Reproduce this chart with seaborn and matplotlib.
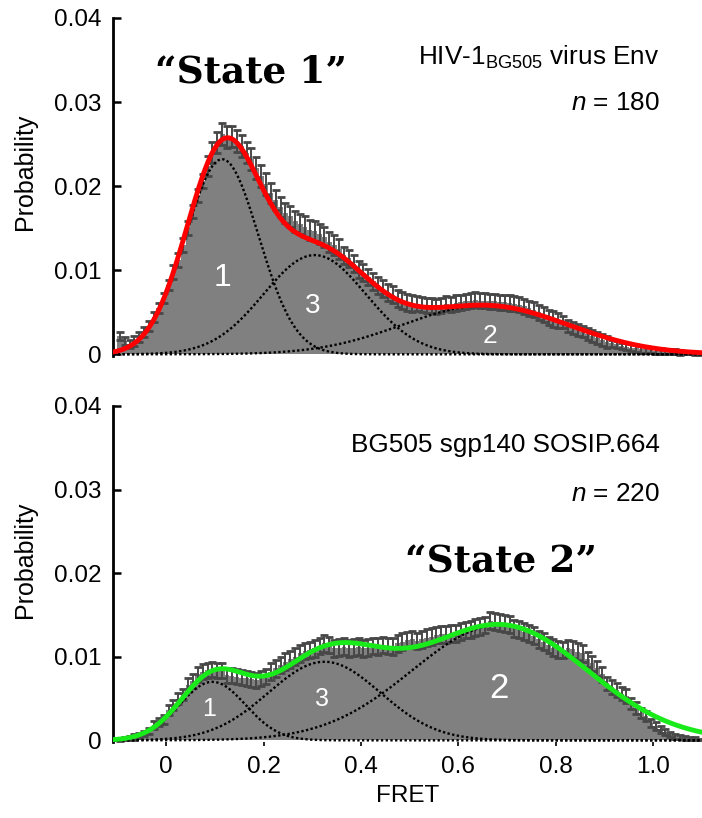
import numpy as np
import pandas as pd
import seaborn as sns
import matplotlib.pyplot as plt

# ---------------- data ----------------
fret_bin_start = -0.10
bin_width = 0.01

top_prob = [
    0.0022, 0.0016, 0.0012, 0.0016, 0.0021, 0.0026, 0.0034, 0.0044, 0.0055, 0.0067,
    0.0082, 0.0098, 0.0112, 0.0130, 0.0150, 0.0170, 0.0189, 0.0206, 0.0224, 0.0240,
    0.0252, 0.0262, 0.0258, 0.0259, 0.0254, 0.0248, 0.0240, 0.0232, 0.0222, 0.0212,
    0.0203, 0.0192, 0.0184, 0.0175, 0.0168, 0.0164, 0.0158, 0.0155, 0.0152, 0.0148,
    0.0147, 0.0143, 0.0140, 0.0134, 0.0130, 0.0125, 0.0118, 0.0114, 0.0108, 0.0101,
    0.0097, 0.0092, 0.0087, 0.0082, 0.0078, 0.0074, 0.0071, 0.0066, 0.0064, 0.0062,
    0.0060, 0.0060, 0.0059, 0.0058, 0.0058, 0.0057, 0.0058, 0.0060, 0.0059, 0.0061,
    0.0062, 0.0063, 0.0064, 0.0065, 0.0064, 0.0064, 0.0063, 0.0063, 0.0062, 0.0062,
    0.0061, 0.0060, 0.0059, 0.0057, 0.0055, 0.0053, 0.0050, 0.0047, 0.0044, 0.0042,
    0.0040, 0.0038, 0.0034, 0.0031, 0.0029, 0.0027, 0.0024, 0.0022, 0.0019, 0.0017,
    0.0015, 0.0013, 0.0012, 0.0010, 0.0009, 0.0008, 0.0007, 0.0006, 0.0006, 0.0005,
    0.0004, 0.0004, 0.0003, 0.0003, 0.0003, 0.0002, 0.0002, 0.0002, 0.0001, 0.0001,
]
top_err = [
    0.0005, 0.0005, 0.0005, 0.0006, 0.0006, 0.0006, 0.0006, 0.0006, 0.0006, 0.0006,
    0.0006, 0.0008, 0.0008, 0.0008, 0.0008, 0.0008, 0.0008, 0.0008, 0.0012, 0.0013,
    0.0013, 0.0013, 0.0013, 0.0013, 0.0013, 0.0013, 0.0013, 0.0013, 0.0013, 0.0013,
    0.0013, 0.0012, 0.0012, 0.0012, 0.0012, 0.0012, 0.0012, 0.0012, 0.0012, 0.0012,
    0.0012, 0.0012, 0.0012, 0.0012, 0.0012, 0.0012, 0.0010, 0.0010, 0.0010, 0.0010,
    0.0010, 0.0010, 0.0010, 0.0010, 0.0010, 0.0010, 0.0010, 0.0010, 0.0010, 0.0010,
    0.0010, 0.0009, 0.0009, 0.0009, 0.0009, 0.0009, 0.0009, 0.0009, 0.0009, 0.0009,
    0.0009, 0.0009, 0.0009, 0.0009, 0.0009, 0.0009, 0.0009, 0.0009, 0.0009, 0.0009,
    0.0009, 0.0009, 0.0009, 0.0009, 0.0009, 0.0009, 0.0009, 0.0009, 0.0009, 0.0009,
    0.0009, 0.0007, 0.0007, 0.0007, 0.0007, 0.0007, 0.0007, 0.0007, 0.0007, 0.0007,
    0.0007, 0.0004, 0.0004, 0.0004, 0.0004, 0.0004, 0.0004, 0.0004, 0.0004, 0.0004,
    0.0004, 0.0004, 0.0003, 0.0003, 0.0003, 0.0003, 0.0002, 0.0002, 0.0002, 0.0002,
]
bot_prob = [
    0.0001, 0.0002, 0.0003, 0.0004, 0.0006, 0.0008, 0.0011, 0.0018, 0.0022, 0.0025,
    0.0036, 0.0042, 0.0050, 0.0055, 0.0066, 0.0071, 0.0079, 0.0082, 0.0084, 0.0085,
    0.0083, 0.0084, 0.0078, 0.0077, 0.0076, 0.0075, 0.0074, 0.0073, 0.0072, 0.0074,
    0.0076, 0.0082, 0.0086, 0.0090, 0.0094, 0.0097, 0.0100, 0.0104, 0.0107, 0.0108,
    0.0110, 0.0113, 0.0116, 0.0114, 0.0110, 0.0111, 0.0112, 0.0110, 0.0111, 0.0112,
    0.0110, 0.0111, 0.0113, 0.0112, 0.0114, 0.0113, 0.0112, 0.0116, 0.0118, 0.0120,
    0.0121, 0.0119, 0.0121, 0.0123, 0.0124, 0.0126, 0.0127, 0.0127, 0.0128, 0.0128,
    0.0130, 0.0132, 0.0133, 0.0135, 0.0136, 0.0138, 0.0143, 0.0142, 0.0141, 0.0140,
    0.0139, 0.0134, 0.0133, 0.0130, 0.0128, 0.0125, 0.0121, 0.0118, 0.0114, 0.0111,
    0.0109, 0.0108, 0.0110, 0.0109, 0.0106, 0.0104, 0.0097, 0.0092, 0.0086, 0.0079,
    0.0068, 0.0064, 0.0060, 0.0056, 0.0053, 0.0044, 0.0039, 0.0033, 0.0029, 0.0021,
    0.0017, 0.0013, 0.0010, 0.0007, 0.0005, 0.0004, 0.0003, 0.0002, 0.0002, 0.0001,
]
bot_err = [
    0.0002, 0.0002, 0.0002, 0.0003, 0.0003, 0.0003, 0.0004, 0.0005, 0.0005, 0.0005,
    0.0006, 0.0006, 0.0007, 0.0007, 0.0008, 0.0008, 0.0009, 0.0009, 0.0009, 0.0009,
    0.0009, 0.0009, 0.0009, 0.0009, 0.0009, 0.0009, 0.0009, 0.0009, 0.0009, 0.0009,
    0.0009, 0.0010, 0.0010, 0.0010, 0.0010, 0.0010, 0.0010, 0.0010, 0.0010, 0.0010,
    0.0010, 0.0010, 0.0010, 0.0010, 0.0010, 0.0010, 0.0010, 0.0010, 0.0010, 0.0010,
    0.0010, 0.0010, 0.0010, 0.0010, 0.0010, 0.0010, 0.0010, 0.0010, 0.0010, 0.0010,
    0.0010, 0.0010, 0.0010, 0.0010, 0.0010, 0.0010, 0.0010, 0.0010, 0.0010, 0.0010,
    0.0010, 0.0010, 0.0010, 0.0010, 0.0010, 0.0010, 0.0010, 0.0010, 0.0010, 0.0010,
    0.0010, 0.0010, 0.0010, 0.0010, 0.0010, 0.0010, 0.0010, 0.0010, 0.0010, 0.0010,
    0.0010, 0.0010, 0.0010, 0.0010, 0.0010, 0.0010, 0.0009, 0.0009, 0.0009, 0.0009,
    0.0008, 0.0008, 0.0008, 0.0008, 0.0008, 0.0007, 0.0007, 0.0006, 0.0006, 0.0005,
    0.0005, 0.0004, 0.0004, 0.0003, 0.0003, 0.0002, 0.0002, 0.0002, 0.0002, 0.0001,
]

# Gaussian fit components (state 1, state 2, state 3)
state_labels = ["1", "2", "3"]
top_means = [0.115, 0.655, 0.305]
top_sigmas = [0.075, 0.170, 0.105]
top_amps = [0.0232, 0.0058, 0.0118]
bot_means = [0.095, 0.685, 0.325]
bot_sigmas = [0.068, 0.180, 0.115]
bot_amps = [0.0070, 0.0138, 0.0094]

# label positions (FRET, probability) and sizes for the state numbers
top_label_pos = [(0.115, 0.0091), (0.665, 0.0022), (0.300, 0.0058)]
top_label_size = [23, 19, 20]
bot_label_pos = [(0.088, 0.0037), (0.683, 0.0062), (0.320, 0.0049)]
bot_label_size = [18, 25, 18]

y_ticks = [0, 0.01, 0.02, 0.03, 0.04]
y_tick_labels = ["0", "0.01", "0.02", "0.03", "0.04"]
x_ticks = [0, 0.2, 0.4, 0.6, 0.8, 1.0]
x_tick_labels = ["0", "0.2", "0.4", "0.6", "0.8", "1.0"]

# ---------------- style ----------------
sns.set_style("ticks")
plt.rcParams["font.family"] = ["Liberation Sans", "DejaVu Sans"]
plt.rcParams["mathtext.fontset"] = "custom"
plt.rcParams["mathtext.it"] = "Liberation Sans:italic"
plt.rcParams["mathtext.rm"] = "Liberation Sans"
for key in ["text.color", "axes.labelcolor", "xtick.color", "ytick.color",
            "axes.edgecolor"]:
    plt.rcParams[key] = "black"

fig = plt.figure(figsize=(7.02, 8.18), dpi=100)
ax1 = fig.add_axes([0.161, 0.5648, 0.839, 0.4132])
ax2 = fig.add_axes([0.161, 0.0929, 0.839, 0.4108])

XMIN, XMAX = -0.109, 1.10


def draw_panel(ax, prob, err, means, sigmas, amps, fit_color, label_pos, label_size,
               ylabel_y):
    n = len(prob)
    edges = [round(fret_bin_start + bin_width * k, 4) for k in range(n + 1)]
    centers = [round(fret_bin_start + bin_width * (k + 0.5), 4) for k in range(n)]
    df = pd.DataFrame({"FRET": centers, "Probability": prob})
    sns.histplot(data=df, x="FRET", weights="Probability", bins=edges, ax=ax,
                 color="#808080", alpha=1.0, edgecolor="none", linewidth=0,
                 stat="count", zorder=2)
    ax.errorbar(centers, prob, yerr=err, fmt="none", ecolor="#474747",
                elinewidth=1.4, capsize=2.6, capthick=2.0, zorder=3)
    xs = np.linspace(XMIN, XMAX, 800)
    total = np.zeros_like(xs)
    for m, s, a in zip(means, sigmas, amps):
        comp = a * np.exp(-(xs - m) ** 2 / (2 * s ** 2))
        total += comp
        ax.plot(xs, comp, color="black", lw=1.7, linestyle=(0, (1, 1)), zorder=4)
    sns.lineplot(x=xs, y=total, ax=ax, color=fit_color, lw=3.5, zorder=5,
                 estimator=None, sort=False)
    for lab, (px, py), fs in zip(state_labels, label_pos, label_size):
        ax.text(px, py, lab, color="white", fontsize=fs, ha="center", va="center",
                zorder=6)
    ax.set_xlim(XMIN, XMAX)
    ax.set_ylim(-0.0002, 0.04)
    ax.set_yticks(y_ticks)
    ax.set_yticklabels(y_tick_labels, fontsize=17.5)
    ax.set_ylabel("Probability", fontsize=18)
    ax.yaxis.set_label_coords(-0.129, ylabel_y)
    sns.despine(ax=ax, top=True, right=True, bottom=True)
    ax.spines["left"].set_linewidth(2.0)
    ax.tick_params(axis="y", direction="in", length=6, width=1.8, pad=8)


draw_panel(ax1, top_prob, top_err, top_means, top_sigmas, top_amps, "#ff0000",
           top_label_pos, top_label_size, 0.546)
draw_panel(ax2, bot_prob, bot_err, bot_means, bot_sigmas, bot_amps, "#19ea19",
           bot_label_pos, bot_label_size, 0.542)

ax1.set_xticks([])
ax1.set_xlabel("")
ax2.set_xticks(x_ticks)
ax2.set_xticklabels(x_tick_labels, fontsize=17.5)
ax2.tick_params(axis="x", direction="out", length=3, width=1.2, pad=7)
ax2.set_xlabel("FRET", fontsize=17.5, labelpad=5)

# annotations
ax1.text(1.013, 0.0344, r"HIV-1$_{\mathrm{BG505}}$ virus Env", fontsize=18.8,
         ha="right", va="baseline")
ax1.text(1.013, 0.0290, r"$n$ = 180", fontsize=18.8, ha="right", va="baseline")
ax2.text(1.013, 0.0345, "BG505 sgp140 SOSIP.664", fontsize=18.8,
         ha="right", va="baseline")
ax2.text(1.013, 0.0286, r"$n$ = 220", fontsize=18.8, ha="right", va="baseline")

ax1.text(0.175, 0.0336, "\u201cState 1\u201d", fontsize=27, fontweight="bold",
         family="DejaVu Serif", ha="center", va="center")
ax2.text(0.688, 0.0213, "\u201cState 2\u201d", fontsize=27, fontweight="bold",
         family="DejaVu Serif", ha="center", va="center")

fig.savefig("out.png", dpi=100)
